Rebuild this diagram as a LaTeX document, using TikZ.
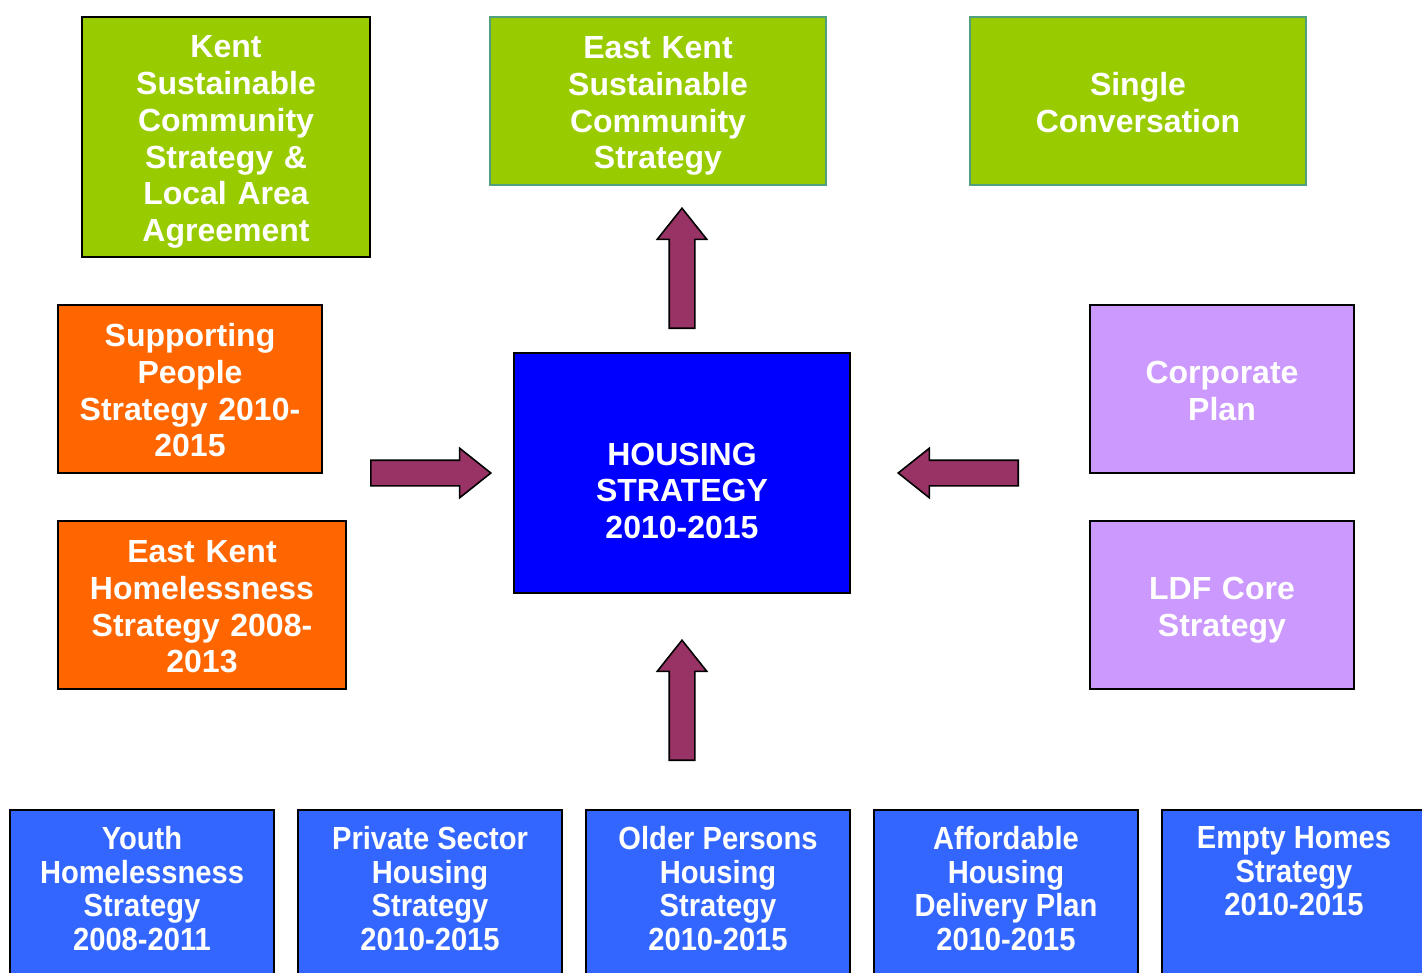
\documentclass[tikz,border=0pt]{standalone}
\usepackage{fontspec}
\setmainfont{Liberation Sans}
\newfontfamily\narrowfont{Liberation Sans}[FakeStretch=0.91]
\usepackage{xcolor}
\usepackage{tikz}
\usetikzlibrary{shapes.arrows}

\definecolor{kentgreen}{HTML}{99CC00}
\definecolor{framegreen}{RGB}{80,160,130}
\definecolor{peopleorange}{HTML}{FF6600}
\definecolor{housingblue}{HTML}{0000FF}
\definecolor{planlilac}{HTML}{CC99FF}
\definecolor{lowblue}{HTML}{3366FF}
\definecolor{arrowplum}{HTML}{993366}

\tikzset{
  plainbox/.style={draw=black, line width=1.2pt, text=white, align=center, inner sep=0pt,
    font=\bfseries\fontsize{24}{27.6}\selectfont,
    execute at begin node={\rule{0pt}{24.6pt}},
    execute at end node={\rule[-5.6pt]{0pt}{0pt}}},
  greenbox/.style={plainbox, fill=kentgreen, minimum width=252pt, minimum height=126pt, text width=236pt},
  orangebox/.style={plainbox, fill=peopleorange, minimum width=198pt, minimum height=126pt, text width=186pt},
  lilacbox/.style={plainbox, fill=planlilac, minimum width=198pt, minimum height=126pt, text width=186pt},
  lowbox/.style={draw=black, line width=1.2pt, fill=lowblue, anchor=north,
    minimum width=198pt, minimum height=150pt},
  lowtext/.style={text=white, align=center, inner sep=0pt, anchor=north,
    font=\narrowfont\bfseries\fontsize{24}{25.3}\selectfont},
  bigarrow/.style={single arrow, draw=black, fill=arrowplum, line width=1.2pt, inner sep=9pt,
    minimum height=90pt, minimum width=36pt, single arrow head extend=9pt,
    single arrow tip angle=77, anchor=tail},
}

\begin{document}
\begin{tikzpicture}[x=0.75pt, y=-0.75pt]
\useasboundingbox (0,0) rectangle (1422,972);
\clip (0,0) rectangle (1422,972);

% top row
\node[greenbox, minimum width=216pt, minimum height=180pt, text width=200pt] (kent) at (226,137)
  {Kent\\Sustainable\\Community\\Strategy \&\\Local Area\\Agreement};
\node[greenbox, draw=framegreen, line width=0.8pt] (eastkent) at (658,101)
  {East Kent\\Sustainable\\Community\\Strategy};
\node[greenbox, draw=framegreen, line width=0.8pt] (single) at (1138,101)
  {Single\\Conversation};

% left and right columns
\node[orangebox] (people) at (190,389) {Supporting\\People\\Strategy 2010-\\2015};
\node[orangebox, minimum width=216pt, text width=200pt] (homeless) at (202,605)
  {East Kent\\Homelessness\\Strategy 2008-\\2013};
\node[lilacbox] (corporate) at (1222,389) {Corporate\\Plan};
\node[lilacbox] (ldf) at (1222,605) {LDF Core\\Strategy};

% centre
\node[plainbox, fill=housingblue, minimum width=252pt, minimum height=180pt] (housing) at (682,473) {};
\node[plainbox, draw=none, text width=236pt] (housingtext) at ([yshift=-12.2pt]housing.center)
  {HOUSING\\STRATEGY\\2010-2015};

% bottom row
\foreach \x/\txt [count=\i] in {
  142/{Youth\\Homelessness\\Strategy\\2008-2011},
  430/{Private Sector\\Housing\\Strategy\\2010-2015},
  718/{Older Persons\\Housing\\Strategy\\2010-2015},
  1006/{Affordable\\Housing\\Delivery Plan\\2010-2015},
  1294/{Empty Homes\\Strategy\\2010-2015}} {
  \node[lowbox] (low\i) at (\x,809) {};
  \node[lowtext] (low\i text) at ([yshift=-12.75pt]low\i.north) {\txt};
}

% block arrows
\node[bigarrow, rotate=90] (uparrow) at (682,329) {};
\node[bigarrow, rotate=90] (lowarrow) at (682,761) {};
\node[bigarrow] (leftarrow) at (370,473) {};
\node[bigarrow, rotate=180] (rightarrow) at (1019,473) {};
\end{tikzpicture}
\end{document}
